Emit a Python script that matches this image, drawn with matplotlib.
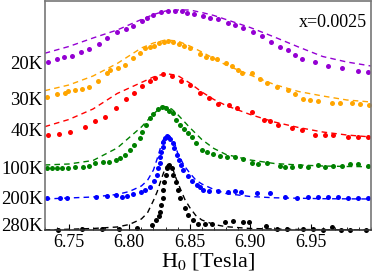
import matplotlib
matplotlib.use("Agg")
import matplotlib.pyplot as plt
from matplotlib.ticker import MultipleLocator

plt.rcParams['font.family'] = ['Liberation Serif', 'DejaVu Serif']
plt.rcParams['mathtext.fontset'] = 'stix'

# ---------------- data (intensity in arbitrary units, curves already offset) ----
temps = ["20K", "30K", "40K", "100K", "200K", "280K"]
colors = ["#9400d3", "#ffa500", "#ff0000", "#008000", "#0000ff", "#000000"]
label_pos = [166.7, 131.0, 99.7, 61.7, 31.7, 4.7]

# 20K
x20 = [6.7330, 6.7399, 6.7462, 6.7523, 6.7600, 6.7669, 6.7749, 6.7818, 6.7896, 6.7970,
       6.8033, 6.8105, 6.8147, 6.8199, 6.8265, 6.8320, 6.8378, 6.8432, 6.8480, 6.8538,
       6.8606, 6.8664, 6.8738, 6.8814, 6.8875, 6.8943, 6.9026, 6.9096, 6.9170, 6.9247,
       6.9316, 6.9371, 6.9432, 6.9537, 6.9647, 6.9758, 6.9895, 6.9978]
y20 = [167.4, 170.4, 172.4, 173.7, 177.4, 180.4, 186.0, 191.4, 197.4, 201.0,
       204.0, 209.0, 211.4, 214.4, 217.2, 218.7, 219.0, 218.7, 217.0, 215.4,
       213.7, 211.7, 210.5, 207.0, 204.7, 201.2, 197.4, 194.0, 188.0, 182.4,
       179.7, 174.7, 170.7, 168.0, 164.0, 161.4, 159.0, 157.4]
fx20 = [6.73, 6.75, 6.77, 6.79, 6.81, 6.82, 6.83, 6.84, 6.85, 6.86, 6.87, 6.88,
        6.90, 6.92, 6.94, 6.96, 6.98, 7.00]
fy20 = [176.4, 183.2, 191.7, 199.7, 210.2, 215.2, 218.7, 219.7, 219.7, 217.2, 214.2, 210.2,
        202.2, 192.7, 182.7, 173.2, 167.7, 163.7]

# 30K
x30 = [6.7317, 6.7399, 6.7468, 6.7495, 6.7551, 6.7606, 6.7669, 6.7739, 6.7813, 6.7840,
       6.7909, 6.7964, 6.8033, 6.8089, 6.8132, 6.8171, 6.8204, 6.8248, 6.8287, 6.8323,
       6.8364, 6.8414, 6.8455, 6.8502, 6.8585, 6.8632, 6.8682, 6.8728, 6.8798, 6.8847,
       6.8902, 6.8935, 6.9013, 6.9082, 6.9142, 6.9220, 6.9316, 6.9371, 6.9440, 6.9495,
       6.9564, 6.9675, 6.9744, 6.9840, 6.9909, 6.9984]
y30 = [132.4, 135.4, 137.0, 139.0, 139.7, 141.0, 142.4, 148.7, 157.0, 159.7,
       162.0, 164.7, 172.0, 177.0, 182.0, 183.0, 184.0, 187.0, 188.0, 189.0,
       188.0, 185.4, 183.7, 181.4, 175.7, 173.0, 172.0, 170.4, 167.0, 163.7,
       159.7, 157.0, 156.4, 150.4, 146.4, 143.0, 139.7, 135.7, 130.7, 129.7,
       129.0, 126.4, 126.4, 126.4, 125.7, 124.7]
fx30 = fx20
fy30 = [139.0, 144.7, 153.7, 166.2, 181.7, 186.7, 189.7, 188.7, 183.7, 177.7, 171.2, 164.7,
        154.7, 145.2, 138.2, 133.7, 129.7, 127.7]

# 40K
x40 = [6.7325, 6.7421, 6.7509, 6.7633, 6.7716, 6.7799, 6.7888, 6.7973, 6.8041, 6.8108,
       6.8171, 6.8213, 6.8281, 6.8353, 6.8428, 6.8502, 6.8581, 6.8661, 6.8736, 6.8823,
       6.8895, 6.9013, 6.9117, 6.9164, 6.9233, 6.9344, 6.9427, 6.9537, 6.9619, 6.9688,
       6.9812, 6.9895, 6.9978]
y40 = [94.7, 95.7, 98.0, 103.0, 109.0, 113.0, 121.4, 130.4, 136.4, 143.7,
       148.7, 151.4, 155.2, 153.4, 148.4, 144.2, 136.4, 131.4, 125.7, 124.5,
       121.4, 118.0, 109.7, 109.0, 104.7, 101.4, 99.7, 94.7, 94.7, 94.7,
       93.0, 93.0, 92.4]
fx40 = fx20
fy40 = [103.0, 110.2, 120.7, 136.2, 147.2, 152.7, 156.2, 154.2, 146.7, 137.7, 130.2, 124.2,
        115.2, 107.7, 102.2, 97.7, 94.7, 92.7]

# 100K
x100 = [6.7317, 6.7358, 6.7399, 6.7441, 6.7495, 6.7551, 6.7614, 6.7669, 6.7716, 6.7780,
        6.7835, 6.7890, 6.7923, 6.7964, 6.8006, 6.8041, 6.8089, 6.8103, 6.8138, 6.8171,
        6.8199, 6.8240, 6.8268, 6.8304, 6.8331, 6.8359, 6.8386, 6.8420, 6.8453, 6.8488,
        6.8516, 6.8552, 6.8599, 6.8640, 6.8695, 6.8751, 6.8806, 6.8875, 6.8943, 6.9013,
        6.9068, 6.9137, 6.9247, 6.9288, 6.9344, 6.9413, 6.9481, 6.9564, 6.9619, 6.9688,
        6.9758, 6.9826, 6.9895, 6.9978]
y100 = [62.0, 62.0, 62.0, 62.0, 62.0, 62.7, 63.0, 63.7, 66.4, 67.4,
        67.4, 69.7, 72.0, 74.7, 79.7, 84.7, 91.4, 98.0, 104.7, 111.4,
        115.7, 120.4, 122.4, 121.4, 119.0, 116.4, 109.7, 104.7, 100.4, 96.4,
        93.0, 86.4, 79.7, 78.0, 75.7, 73.7, 72.4, 73.0, 70.7, 67.0,
        65.4, 66.4, 63.7, 63.0, 63.0, 63.7, 63.0, 64.7, 63.0, 63.7,
        64.0, 65.4, 65.4, 63.7]
fx100 = [6.73, 6.75, 6.77, 6.79, 6.81, 6.82, 6.825, 6.828, 6.835, 6.84, 6.85, 6.86, 6.87,
         6.88, 6.90, 6.92, 6.94, 6.96, 6.98, 7.00]
fy100 = [64.7, 65.7, 69.2, 81.7, 102.7, 115.7, 121.2, 123.7, 120.7, 115.2, 102.2, 90.2, 81.2,
         75.2, 69.7, 66.2, 64.7, 63.7, 63.2, 63.0]

# 200K
x200 = [6.7319, 6.7427, 6.7482, 6.7727, 6.7813, 6.7886, 6.7942, 6.7985, 6.8033, 6.8093,
        6.8134, 6.8175, 6.8204, 6.8227, 6.8240, 6.8250, 6.8258, 6.8266, 6.8275, 6.8283,
        6.8295, 6.8310, 6.8323, 6.8337, 6.8359, 6.8372, 6.8392, 6.8414, 6.8428, 6.8447,
        6.8482, 6.8516, 6.8558, 6.8585, 6.8612, 6.8660, 6.8736, 6.8817, 6.8875, 6.8924,
        6.9054, 6.9164, 6.9288, 6.9385, 6.9476, 6.9564, 6.9647, 6.9729, 6.9812, 6.9895,
        6.9978]
y200 = [31.2, 31.7, 31.7, 33.0, 33.9, 34.4, 33.0, 33.7, 35.4, 38.0,
        39.7, 43.0, 49.0, 54.7, 61.4, 66.4, 72.4, 78.0, 83.0, 88.0,
        91.4, 93.7, 93.0, 90.4, 86.4, 81.4, 74.7, 69.7, 64.7, 59.7,
        53.7, 48.7, 44.7, 42.4, 39.7, 39.0, 38.2, 38.0, 38.7, 38.0,
        36.4, 37.0, 33.0, 31.4, 33.0, 33.0, 33.0, 33.0, 32.0, 32.0,
        31.4]
fx200 = [6.73, 6.77, 6.79, 6.80, 6.81, 6.815, 6.82, 6.823, 6.826, 6.828, 6.830, 6.832,
         6.833, 6.835, 6.838, 6.840, 6.843, 6.845, 6.85, 6.855, 6.86, 6.87, 6.88, 6.90,
         6.92, 6.96, 7.00]
fy200 = [30.7, 32.7, 35.2, 38.2, 43.7, 49.2, 59.7, 70.7, 82.7, 89.7, 93.2, 94.2,
         93.7, 91.2, 84.7, 76.7, 69.7, 64.7, 56.7, 49.7, 45.7, 40.2, 36.2, 33.2,
         31.9, 31.0, 30.7]

# 280K
x280 = [6.7406, 6.7606, 6.7772, 6.7913, 6.8061, 6.8192, 6.8225, 6.8242, 6.8252, 6.8264,
        6.8276, 6.8283, 6.8291, 6.8301, 6.8315, 6.8331, 6.8351, 6.8364, 6.8386, 6.8406,
        6.8420, 6.8457, 6.8482, 6.8527, 6.8571, 6.8626, 6.8684, 6.8792, 6.8858, 6.8937,
        6.8992, 6.9131, 6.9226, 6.9302, 6.9440, 6.9523, 6.9599, 6.9675, 6.9752, 6.9826,
        6.9955]
y280 = [-0.1, 1.0, 0.5, 0.7, 2.0, 4.2, 9.2, 13.2, 18.0, 24.7,
        31.4, 39.7, 48.0, 54.7, 61.4, 64.7, 61.4, 54.7, 48.0, 39.7,
        31.4, 21.4, 14.7, 10.0, 5.7, 5.7, 5.4, 8.0, 8.7, 7.2,
        7.2, 3.9, 0.7, 0.7, 0.7, 0.7, -0.3, 3.0, -0.3, -0.3,
        -0.3]
fx280 = [6.73, 6.77, 6.79, 6.80, 6.81, 6.815, 6.82, 6.823, 6.826, 6.828, 6.830, 6.832,
         6.834, 6.836, 6.838, 6.840, 6.843, 6.846, 6.85, 6.855, 6.86, 6.87, 6.88, 6.90,
         6.94, 7.00]
fy280 = [-0.3, 1.2, 2.7, 5.2, 10.7, 16.7, 29.2, 37.7, 48.7, 55.7, 62.2, 65.2,
         64.2, 60.7, 53.7, 47.2, 38.7, 30.2, 22.2, 14.2, 9.7, 5.2, 3.0, 1.2,
         0.2, -0.3]

xticks = [6.75, 6.80, 6.85, 6.90, 6.95]
annotation = "x=0.0025"
xlabel = "H$_0$ [Tesla]"

points = [(x20, y20), (x30, y30), (x40, y40), (x100, y100), (x200, y200), (x280, y280)]
fits = [(fx20, fy20), (fx30, fy30), (fx40, fy40), (fx100, fy100), (fx200, fy200), (fx280, fy280)]

# ---------------- figure ----------------
fig = plt.figure(figsize=(3.74, 2.76), dpi=100)
ax = fig.add_axes([0.1195, 0.1678, 0.8725, 0.8286])

for (px, py), (fx, fy), c in zip(points, fits, colors):
    ax.plot(fx, fy, linestyle=(0, (4, 3)), color=c, lw=1.0)
    ax.plot(px, py, 'o', color=c, ms=3.6, mec='none', clip_on=False)

ax.set_xlim(6.73, 7.00)
ax.set_ylim(0, 228.7)
ax.set_xticks(xticks)
ax.set_xticklabels([f"{t:.2f}" for t in xticks])
ax.xaxis.set_minor_locator(MultipleLocator(0.01))
ax.tick_params(axis='x', which='major', direction='in', length=4, width=0.8,
               labelsize=13, pad=3, colors='black')
ax.tick_params(axis='x', which='minor', direction='in', length=2.5, width=0.6)
ax.set_yticks(label_pos)
ax.set_yticklabels(temps)
ax.tick_params(axis='y', length=0, labelsize=13.5, pad=1.5)
ax.set_xlabel(xlabel, fontsize=16, labelpad=0)

for s in ax.spines.values():
    s.set_color('#777777')
    s.set_linewidth(1.2)
ax.spines['bottom'].set_color('#333333')

ax.text(0.988, 0.904, annotation, transform=ax.transAxes, ha='right', va='center',
        fontsize=13)

fig.savefig("out.png", dpi=100)
